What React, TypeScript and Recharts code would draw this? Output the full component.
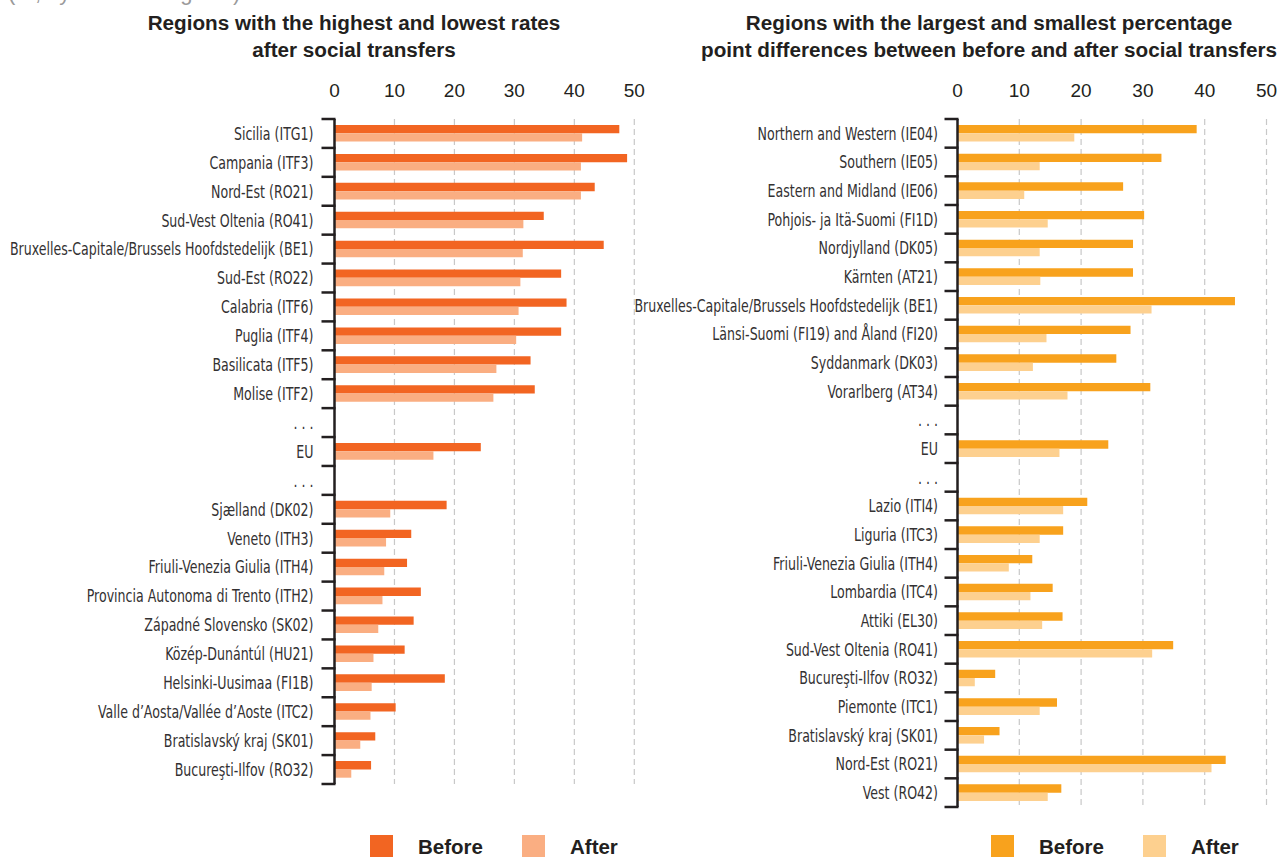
import React from 'react';
import { BarChart, Bar, XAxis, YAxis, CartesianGrid } from 'recharts';

// left panel: highest and lowest rates after social transfers
const leftLabels = [
    'Sicilia (ITG1)', 'Campania (ITF3)', 'Nord-Est (RO21)', 'Sud-Vest Oltenia (RO41)',
    'Bruxelles-Capitale/Brussels Hoofdstedelijk (BE1)', 'Sud-Est (RO22)', 'Calabria (ITF6)',
    'Puglia (ITF4)', 'Basilicata (ITF5)', 'Molise (ITF2)', '. . .', 'EU', '. . .',
    'Sjælland (DK02)', 'Veneto (ITH3)', 'Friuli-Venezia Giulia (ITH4)',
    'Provincia Autonoma di Trento (ITH2)', 'Západné Slovensko (SK02)', 'Közép-Dunántúl (HU21)',
    'Helsinki-Uusimaa (FI1B)', 'Valle d’Aosta/Vallée d’Aoste (ITC2)', 'Bratislavský kraj (SK01)',
    'Bucureşti-Ilfov (RO32)',
];
const leftBefore = [47.5, 48.8, 43.4, 34.9, 44.9, 37.8, 38.7, 37.8, 32.7, 33.4, null, 24.4, null,
    18.7, 12.8, 12.1, 14.4, 13.2, 11.7, 18.4, 10.2, 6.8, 6.1];
const leftAfter = [41.3, 41.1, 41.1, 31.5, 31.4, 31.0, 30.7, 30.3, 27.0, 26.5, null, 16.5, null,
    9.3, 8.6, 8.3, 8.0, 7.3, 6.5, 6.2, 6.0, 4.3, 2.8];

// right panel: largest and smallest differences
const rightLabels = [
    'Northern and Western (IE04)', 'Southern (IE05)', 'Eastern and Midland (IE06)',
    'Pohjois- ja Itä-Suomi (FI1D)', 'Nordjylland (DK05)', 'Kärnten (AT21)',
    'Bruxelles-Capitale/Brussels Hoofdstedelijk (BE1)', 'Länsi-Suomi (FI19) and Åland (FI20)',
    'Syddanmark (DK03)', 'Vorarlberg (AT34)', '. . .', 'EU', '. . .', 'Lazio (ITI4)',
    'Liguria (ITC3)', 'Friuli-Venezia Giulia (ITH4)', 'Lombardia (ITC4)', 'Attiki (EL30)',
    'Sud-Vest Oltenia (RO41)', 'Bucureşti-Ilfov (RO32)', 'Piemonte (ITC1)',
    'Bratislavský kraj (SK01)', 'Nord-Est (RO21)', 'Vest (RO42)',
];
const rightBefore = [38.7, 33.0, 26.8, 30.2, 28.4, 28.4, 44.9, 28.0, 25.7, 31.2, null, 24.4, null,
    21.0, 17.1, 12.1, 15.4, 17.0, 34.9, 6.1, 16.1, 6.8, 43.4, 16.8];
const rightAfter = [18.9, 13.3, 10.8, 14.6, 13.3, 13.4, 31.4, 14.4, 12.2, 17.8, null, 16.5, null,
    17.1, 13.3, 8.3, 11.8, 13.7, 31.5, 2.8, 13.3, 4.3, 41.1, 14.6];

const xTicks = [0, 10, 20, 30, 40, 50];

const INK = '#231f20';
const LABEL_FONT = '"Liberation Sans Narrow", "DejaVu Sans Condensed", sans-serif';
const MAIN_FONT = '"Liberation Sans", Arial, sans-serif';

interface PanelProps {
    labels: string[];
    before: (number | null)[];
    after: (number | null)[];
    beforeColor: string;
    afterColor: string;
    left: number;
    width: number;
    axisWidth: number;
    marginRight: number;
    plotTop: number;
    plotBottom: number;
    labelGap: number;
}

const Panel: React.FC<PanelProps> = ({
    labels, before, after, beforeColor, afterColor, left, width, axisWidth,
    marginRight, plotTop, plotBottom, labelGap,
}) => {
    const height = 857;
    const data = labels.map((name, i) => ({ id: i, name, before: before[i], after: after[i] }));
    const band = (plotBottom - plotTop) / labels.length;

    // labels plus the bracket-like marks between categories
    const renderTick = (props: any) => {
        const { x, y, index } = props;
        const axisX = x + labelGap;
        const label = labels[index];
        return (
            <g>
                <line x1={axisX - 13} x2={axisX + 1} y1={y - band / 2} y2={y - band / 2} stroke={INK} strokeWidth={2.5} />
                {index === labels.length - 1 && (
                    <line x1={axisX - 13} x2={axisX + 1} y1={y + band / 2} y2={y + band / 2} stroke={INK} strokeWidth={2.5} />
                )}
                <text
                    transform={`translate(${x},${y}) scale(0.8,1)`}
                    x={0}
                    y={0}
                    dy="0.36em"
                    textAnchor="end"
                    fill="#333132"
                    fontSize={17.5}
                    fontFamily={LABEL_FONT}
                >
                    {label}
                </text>
            </g>
        );
    };

    return (
        <div style={{ position: 'absolute', left, top: 0, width, height }}>
            <BarChart
                layout="vertical"
                width={width}
                height={height}
                data={data}
                barGap={0}
                margin={{ top: plotTop - 40, right: marginRight, bottom: height - plotBottom, left: 0 }}
            >
                <CartesianGrid horizontal={false} stroke="#c8c8c8" strokeDasharray="6 4" strokeWidth={1.2} />
                <XAxis
                    type="number"
                    orientation="top"
                    domain={[0, 50]}
                    ticks={xTicks}
                    height={40}
                    axisLine={false}
                    tickLine={false}
                    tickSize={0}
                    tickMargin={22}
                    tick={{ fill: INK, fontSize: 19, fontFamily: MAIN_FONT }}
                />
                <YAxis
                    type="category"
                    dataKey="id"
                    width={axisWidth}
                    interval={0}
                    axisLine={{ stroke: INK, strokeWidth: 2.5 }}
                    tickLine={false}
                    tickSize={0}
                    tickMargin={labelGap}
                    tick={renderTick}
                />
                <Bar dataKey="before" fill={beforeColor} barSize={8.3} isAnimationActive={false} />
                <Bar dataKey="after" fill={afterColor} barSize={8.3} isAnimationActive={false} />
            </BarChart>
        </div>
    );
};

const LegendItem: React.FC<{ left: number; color: string; text: string }> = ({ left, color, text }) => (
    <>
        <div style={{ position: 'absolute', left, top: 835, width: 23, height: 22, background: color }} />
        <div style={{
            position: 'absolute', left: left + 48, top: 837, fontSize: 20.5, lineHeight: '20px',
            fontWeight: 700, color: INK, fontFamily: MAIN_FONT, whiteSpace: 'nowrap',
        }}>{text}</div>
    </>
);

const titleStyle = (center: number): React.CSSProperties => ({
    position: 'absolute', left: center - 320, top: 9, width: 640, textAlign: 'center',
    fontSize: 20.7, lineHeight: '27px', fontWeight: 700, color: INK, fontFamily: MAIN_FONT,
    whiteSpace: 'nowrap',
});

const App: React.FC = () => {
    return (
        <div style={{
            position: 'absolute', left: 0, top: 0, width: 1284, height: 857, overflow: 'hidden',
            background: '#ffffff', fontFamily: MAIN_FONT,
        }}>
            <div style={{
                position: 'absolute', left: 8, top: -20, fontSize: 22, color: '#9a9a9a',
                fontFamily: MAIN_FONT, whiteSpace: 'nowrap',
            }}>(%, by NUTS 2 regions)</div>

            <div style={titleStyle(354)}>
                Regions with the highest and lowest rates<br />after social transfers
            </div>
            <div style={titleStyle(989)}>
                Regions with the largest and smallest percentage<br />point differences between before and after social transfers
            </div>

            <Panel
                labels={leftLabels}
                before={leftBefore}
                after={leftAfter}
                beforeColor="#f26522"
                afterColor="#faae82"
                left={0}
                width={650}
                axisWidth={334.5}
                marginRight={650 - 634.3}
                plotTop={119}
                plotBottom={784}
                labelGap={21}
            />
            <Panel
                labels={rightLabels}
                before={rightBefore}
                after={rightAfter}
                beforeColor="#f8a21d"
                afterColor="#fdd08f"
                left={600}
                width={684}
                axisWidth={357.5}
                marginRight={17.5}
                plotTop={119}
                plotBottom={807}
                labelGap={19.5}
            />

            <LegendItem left={370} color="#f26522" text="Before" />
            <LegendItem left={522} color="#faae82" text="After" />
            <LegendItem left={991} color="#f8a21d" text="Before" />
            <LegendItem left={1143} color="#fdd08f" text="After" />
        </div>
    );
};

export default App;
